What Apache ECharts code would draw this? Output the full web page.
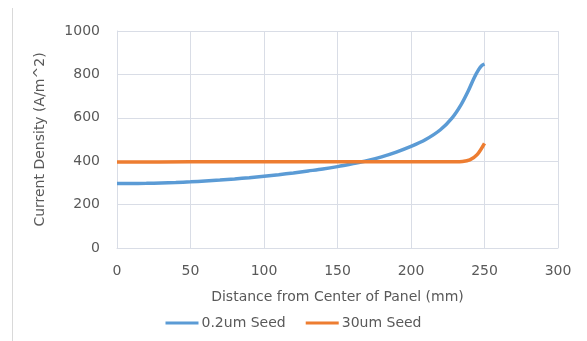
<!DOCTYPE html>
<html><head><meta charset="utf-8">
<script src="https://cdn.jsdelivr.net/npm/echarts@6/dist/echarts.min.js"></script>
<style>html,body{margin:0;padding:0;background:#fff}#c{width:587px;height:341px}</style>
</head><body><div id="c"></div>
<script>
const xTicks = [0, 50, 100, 150, 200, 250, 300];
const yTicks = [0, 200, 400, 600, 800, 1000];
const seedThinX = [0, 10, 20, 30, 40, 50, 60, 70, 80, 90, 100, 110, 120, 130, 140, 150, 160, 170, 180, 190, 200, 210, 220, 228, 234, 239, 243, 246, 248, 250];
const seedThinY = [297, 297, 298, 300, 302, 305, 309, 313, 318, 324, 331, 338, 346, 355, 364, 375, 388, 402, 420, 442, 468, 500, 545, 600, 660, 725, 785, 822, 840, 848];
const seedThickX = [0, 50, 100, 150, 200, 225, 230, 235, 240, 245, 250];
const seedThickY = [396, 397, 398, 398, 398, 398, 398, 399, 406, 430, 482];
const seriesNames = ['0.2um Seed', '30um Seed'];

const font = 'DejaVu Sans';
const txt = '#595959';
const chart = echarts.init(document.getElementById('c'));
chart.setOption({
  animation: false,
  textStyle: {fontFamily: font},
  graphic: [{type: 'line', shape: {x1: 12.5, y1: 8, x2: 12.5, y2: 341}, style: {stroke: '#d9d9d9', lineWidth: 1}}],
  grid: {left: 117, right: 29, top: 31, bottom: 93},
  legend: {
    bottom: 6, left: 'center', itemWidth: 33, itemHeight: 3, icon: 'rect', itemGap: 20,
    textStyle: {fontFamily: font, fontSize: 14, color: txt, padding: [0, 0, 0, -2]},
    data: seriesNames
  },
  xAxis: {
    type: 'value', min: xTicks[0], max: xTicks[xTicks.length - 1], interval: 50,
    name: 'Distance from Center of Panel (mm)', nameLocation: 'middle', nameGap: 42,
    nameTextStyle: {fontFamily: font, fontSize: 14, color: txt},
    axisLine: {show: true, lineStyle: {color: '#d9dde6'}},
    axisTick: {show: false},
    axisLabel: {fontFamily: font, fontSize: 14, color: txt, margin: 16},
    splitLine: {show: true, lineStyle: {color: '#d9dde6', width: 1}}
  },
  yAxis: {
    type: 'value', min: yTicks[0], max: yTicks[yTicks.length - 1], interval: 200,
    name: 'Current Density (A/m^2)', nameLocation: 'middle', nameGap: 70,
    nameTextStyle: {fontFamily: font, fontSize: 14, color: txt},
    axisLine: {show: true, lineStyle: {color: '#d9dde6'}},
    axisTick: {show: false},
    axisLabel: {fontFamily: font, fontSize: 14, color: txt, margin: 17, formatter: v => String(v)},
    splitLine: {show: true, lineStyle: {color: '#d9dde6', width: 1}}
  },
  series: [
    {name: seriesNames[0], type: 'line', smooth: 0.3, showSymbol: false,
     lineStyle: {color: '#5b9bd5', width: 3.5}, itemStyle: {color: '#5b9bd5'},
     data: seedThinX.map((x, i) => [x, seedThinY[i]])},
    {name: seriesNames[1], type: 'line', smooth: 0.3, showSymbol: false,
     lineStyle: {color: '#ed7d31', width: 3.5}, itemStyle: {color: '#ed7d31'},
     data: seedThickX.map((x, i) => [x, seedThickY[i]])}
  ]
});
</script></body></html>
